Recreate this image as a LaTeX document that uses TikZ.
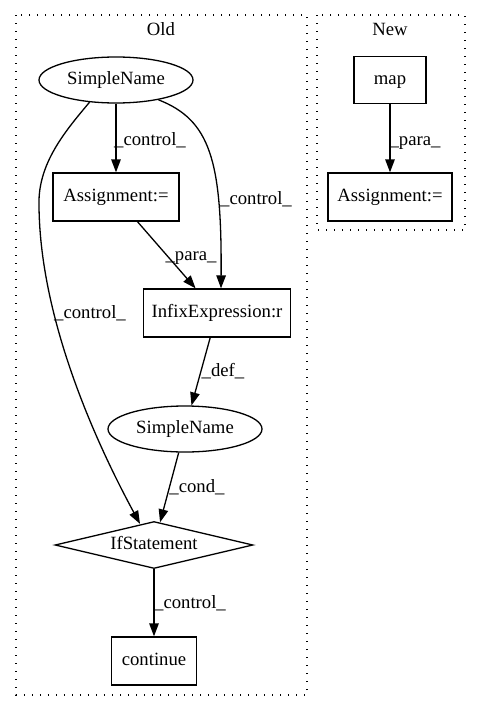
\documentclass[tikz,border=0pt]{standalone}
\usepackage{fontspec}
\setmainfont{Liberation Serif}
\usetikzlibrary{shapes.geometric,arrows.meta}
\begin{document}
\begin{tikzpicture}[x=1pt,y=-1pt,
  every node/.style={font=\fontsize{18.7}{22}\selectfont,text height=13pt,text depth=4pt,inner sep=0pt},
  box/.style={draw,line width=1.3pt,rectangle,minimum height=48pt},
  oval/.style={draw,line width=1.3pt,ellipse,minimum width=154pt,minimum height=46pt},
  cond/.style={draw,line width=1.3pt,diamond,aspect=4.2,minimum width=198pt,minimum height=47pt},
  flow/.style={line width=1.3pt,-{Triangle[length=13pt,width=9.5pt]}},
  cluster/.style={line width=1.3pt,dash pattern=on 1.3pt off 6.7pt}]
\useasboundingbox (0,0) rectangle (480,712);
\draw[cluster] (16,15) rectangle (307,695);
\draw[cluster] (317,15) rectangle (465,230);
\node (oldt) at (161,31) {Old};
\node (newt) at (390,31) {New};
\node[oval] (sn1) at (116,80) {SimpleName};
\node[box,minimum width=126pt] (aold) at (116,197) {Assignment:=};
\node[box,minimum width=147pt] (infix) at (217,313) {InfixExpression:r};
\node[oval] (sn2) at (185,429) {SimpleName};
\node[cond] (if) at (154,545) {IfStatement};
\node[box,minimum width=85pt] (cont) at (154,661) {continue};
\node[box,minimum width=72pt,minimum height=47pt] (map) at (390,80) {map};
\node[box,minimum width=124pt] (anew) at (390,197) {Assignment:=};
\draw[flow] (sn1) -- (aold) node (l1) at (150,141) {\_control\_};
\draw[flow] (sn1.-25) .. controls (210,120) and (222,160) .. ([xshift=4pt]infix.north) node (l2) at (256,200) {\_control\_};
\draw[flow] (sn1.-140) .. controls (68,128) and (40,160) .. (39,200) .. controls (38,320) and (100,450) .. ([xshift=-14pt,yshift=-3pt]if.north) node (l3) at (90,314) {\_control\_};
\draw[flow] (aold) -- (infix) node (l4) at (191,256) {\_para\_};
\draw[flow] (infix) -- (sn2) node (l5) at (223,372) {\_def\_};
\draw[flow] (sn2) -- (if) node (l6) at (197,488) {\_cond\_};
\draw[flow] (if) -- (cont) node (l7) at (190,604) {\_control\_};
\draw[flow] (map) -- (anew) node (l8) at (415,141) {\_para\_};
\end{tikzpicture}
\end{document}
